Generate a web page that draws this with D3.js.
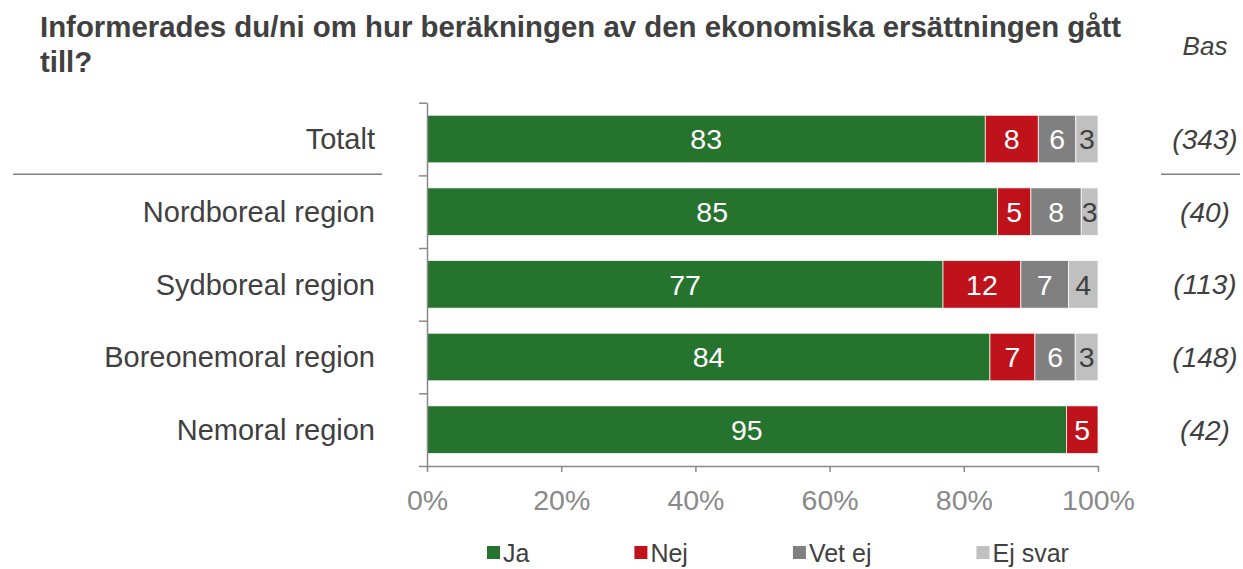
<!DOCTYPE html>
<html>
<head>
<meta charset="utf-8">
<script src="https://cdn.jsdelivr.net/npm/d3@7"></script>
<style>
  body { margin: 0; background: #fff; }
  svg text { font-family: "Liberation Sans", Arial, sans-serif; }
  .axis path, .axis line { stroke: #898989; stroke-width: 1.5; }
  .axis text { fill: #898989; font-size: 28.5px; }
</style>
</head>
<body>
<svg id="chart"></svg>
<script>
// categories and series (percent of respondents)
const categories = ['Totalt', 'Nordboreal region', 'Sydboreal region', 'Boreonemoral region', 'Nemoral region'];
const seriesNames = ['Ja', 'Nej', 'Vet ej', 'Ej svar'];
const ja     = [83.2, 85.0, 76.9, 83.9, 95.3];
const nej    = [7.9, 5.0, 11.6, 6.7, 4.7];
const vetEj  = [5.6, 7.5, 7.1, 6.0, 0];
const ejSvar = [3.3, 2.5, 4.4, 3.4, 0];
const bases  = [343, 40, 113, 148, 42];
const xTicks = [0, 20, 40, 60, 80, 100];

class StackedBarChart {

  constructor(_config, _data) {
    this.config = {
      parentElement: _config.parentElement,
      containerWidth: _config.containerWidth || 1243,
      containerHeight: _config.containerHeight || 569,
      plot: _config.plot || {left: 427, right: 1098, top: 102.7, bottom: 466},
      colors: _config.colors || ['#26732e', '#c0121a', '#808080', '#c0c0c0']
    }
    this.data = _data;
    this.initVis();
  }

  initVis() {
    let vis = this;
    const p = vis.config.plot;

    vis.svg = d3.select(vis.config.parentElement)
      .attr('width', vis.config.containerWidth)
      .attr('height', vis.config.containerHeight);

    vis.xScale = d3.scaleLinear().domain([0, 100]).range([p.left, p.right]);
    vis.yScale = d3.scaleBand().domain(categories).range([p.top, p.bottom])
      .paddingInner(0.345).paddingOuter(0.1725);
    // band edges for the left tick marks
    vis.yEdge = d3.scaleLinear().domain([0, categories.length]).range([p.top, p.bottom]);
    vis.colorScale = d3.scaleOrdinal().domain(seriesNames).range(vis.config.colors);

    vis.xAxis = d3.axisBottom(vis.xScale)
      .tickValues(xTicks)
      .tickFormat(d => d + '%')
      .tickSize(6)
      .tickSizeOuter(0)
      .tickPadding(18);

    vis.yAxis = d3.axisLeft(vis.yEdge)
      .tickValues(d3.range(categories.length + 1))
      .tickFormat('')
      .tickSize(8)
      .tickSizeOuter(0);

    // title
    vis.svg.append('text')
      .attr('x', 40).attr('y', 37)
      .style('font-size', '29.4px').style('font-weight', 'bold').attr('fill', '#404040')
      .selectAll('tspan')
      .data(['Informerades du/ni om hur beräkningen av den ekonomiska ersättningen gått', 'till?'])
      .join('tspan')
      .attr('x', 40)
      .attr('dy', (d, i) => i ? 35 : 0)
      .text(d => d);

    vis.svg.append('text')
      .attr('x', 1205).attr('y', 55)
      .attr('text-anchor', 'middle')
      .style('font-size', '26px').style('font-style', 'italic').attr('fill', '#404040')
      .text('Bas');

    vis.updateVis();
  }

  updateVis() {
    let vis = this;
    vis.stacked = d3.stack().keys(seriesNames)(vis.data);
    vis.renderVis();
  }

  renderVis() {
    let vis = this;
    const p = vis.config.plot;

    const layers = vis.svg.append('g').selectAll('g')
      .data(vis.stacked)
      .join('g')
      .attr('fill', d => vis.colorScale(d.key));

    layers.selectAll('rect')
      .data(d => d.filter(s => s[1] - s[0] > 0))
      .join('rect')
      .attr('x', d => vis.xScale(d[0]))
      .attr('y', d => vis.yScale(d.data.cat))
      .attr('width', d => vis.xScale(d[1]) - vis.xScale(d[0]))
      .attr('height', vis.yScale.bandwidth())
      .attr('stroke', '#fff')
      .attr('stroke-width', 0.75);

    // data labels
    layers.selectAll('text')
      .data(d => d.filter(s => s[1] - s[0] > 0).map(s => Object.assign(s, {key: d.key})))
      .join('text')
      .attr('x', d => (vis.xScale(d[0]) + vis.xScale(d[1])) / 2)
      .attr('y', d => vis.yScale(d.data.cat) + vis.yScale.bandwidth() / 2)
      .attr('dy', '0.36em')
      .attr('text-anchor', 'middle')
      .style('font-size', '28.5px')
      .attr('fill', d => d.key === 'Ej svar' ? '#404040' : '#fff')
      .text(d => Math.round(d[1] - d[0]));

    vis.svg.append('g')
      .attr('class', 'axis x-axis')
      .attr('transform', `translate(0,${p.bottom})`)
      .call(vis.xAxis);

    vis.svg.append('g')
      .attr('class', 'axis y-axis')
      .attr('transform', `translate(${p.left},0)`)
      .call(vis.yAxis);

    // category labels
    vis.svg.append('g').selectAll('text')
      .data(categories)
      .join('text')
      .attr('x', 375)
      .attr('y', d => vis.yScale(d) + vis.yScale.bandwidth() / 2)
      .attr('dy', '0.36em')
      .attr('text-anchor', 'end')
      .style('font-size', '29px')
      .attr('fill', '#404040')
      .text(d => d);

    // base column
    vis.svg.append('g').selectAll('text')
      .data(bases)
      .join('text')
      .attr('x', 1205)
      .attr('y', (d, i) => vis.yScale(categories[i]) + vis.yScale.bandwidth() / 2)
      .attr('dy', '0.36em')
      .attr('text-anchor', 'middle')
      .style('font-size', '28px').style('font-style', 'italic')
      .attr('fill', '#404040')
      .text(d => `(${d})`);

    // separators under Totalt
    const sepY = vis.yEdge(1) - 1;
    [[13, 382], [1161, 1240]].forEach(([a, b]) => {
      vis.svg.append('line')
        .attr('x1', a).attr('x2', b).attr('y1', sepY).attr('y2', sepY)
        .attr('stroke', '#808080').attr('stroke-width', 1.5);
    });

    // legend
    const legend = vis.svg.append('g');
    let lx = 487;
    seriesNames.forEach(name => {
      const item = legend.append('g').attr('transform', `translate(${lx},546)`);
      item.append('rect').attr('width', 13).attr('height', 13).attr('fill', vis.colorScale(name));
      const t = item.append('text')
        .attr('x', 16).attr('y', 16)
        .style('font-size', '25px').attr('fill', '#404040')
        .text(name);
      lx += 16 + t.node().getComputedTextLength() + 105;
    });
  }
}

const tableData = categories.map((cat, i) => ({
  cat: cat, 'Ja': ja[i], 'Nej': nej[i], 'Vet ej': vetEj[i], 'Ej svar': ejSvar[i]
}));

new StackedBarChart({parentElement: '#chart'}, tableData);
</script>
</body>
</html>
